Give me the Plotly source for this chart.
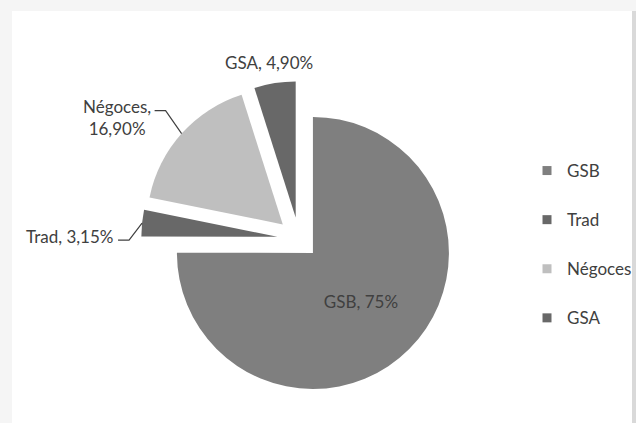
import math
import plotly.graph_objects as go

# Répartition des ventes par circuit
labels = ["GSB", "Trad", "Négoces", "GSA"]
values = [75.0, 3.15, 16.90, 4.90]
shown = ["75%", "3,15%", "16,90%", "4,90%"]
colors = ["#7f7f7f", "#686868", "#bfbfbf", "#686868"]
pulls = [0.145, 0.16, 0.16, 0.16]

W, H = 636, 423
FONT = "Lato"
FS = 17
TXT = "#404040"

# pie geometry (pixels): centre and radius
cx, cy, R = 299.0, 239.0, 136.0
half = R * (1 + max(pulls))
dom_x = [(cx - half) / W, (cx + half) / W]
dom_y = [(H - cy - half) / H, (H - cy + half) / H]


def px(x, y):
    return x / W, 1 - y / H


def outer_point(i):
    """Point on the outer arc at the mid-angle of slice i (clockwise from 12 o'clock)."""
    total = sum(values)
    start = sum(values[:i]) / total * 2 * math.pi
    mid = start + values[i] / total * math.pi
    dx, dy = math.sin(mid), -math.cos(mid)
    ox = cx + pulls[i] * R * dx
    oy = cy + pulls[i] * R * dy
    return ox + R * dx, oy + R * dy


fig = go.Figure()

fig.add_trace(go.Pie(
    labels=labels,
    values=values,
    text=[f"{l}, {s}" for l, s in zip(labels, shown)],
    textinfo="text",
    textposition=["inside", "none", "none", "none"],
    insidetextorientation="horizontal",
    insidetextfont=dict(family=FONT, size=FS, color=TXT),
    marker=dict(colors=colors, line=dict(width=0)),
    pull=pulls,
    sort=False,
    direction="clockwise",
    rotation=0,
    domain=dict(x=dom_x, y=dom_y),
    showlegend=False,
    hoverinfo="label+percent",
))

# legend entries, one group each so they can be spaced apart
for i, (lab, col) in enumerate(zip(labels, colors)):
    fig.add_trace(go.Scatter(
        x=[None], y=[None], mode="markers", name=lab,
        marker=dict(symbol="square", size=9, color=col),
        legendgroup=f"g{i}", showlegend=True, hoverinfo="skip",
    ))

shapes = [
    dict(type="rect", xref="paper", yref="paper", x0=12 / W, x1=632 / W, y0=0, y1=1 - 11 / H,
         fillcolor="white", line=dict(width=0), layer="below"),
    dict(type="rect", xref="paper", yref="paper", x0=632 / W, x1=1, y0=0, y1=1 - 11 / H,
         fillcolor="#d9d9d9", line=dict(width=0), layer="below"),
]

annotations = []
LEAD = dict(color="#404040", width=1.2)

# Trad: label left of the slice with an elbow leader
tx, ty = outer_point(1)
p = [px(tx, ty), px(tx - 13, ty + 17), px(tx - 24, ty + 17)]
shapes.append(dict(type="path", xref="paper", yref="paper",
                   path=f"M {p[0][0]},{p[0][1]} L {p[1][0]},{p[1][1]} L {p[2][0]},{p[2][1]}",
                   line=LEAD))
ax_, ay_ = px(tx - 27, ty + 13)
annotations.append(dict(x=ax_, y=ay_, xref="paper", yref="paper", showarrow=False,
                        text=f"{labels[1]}, {shown[1]}", xanchor="right", yanchor="middle",
                        font=dict(family=FONT, size=FS, color=TXT)))

# Négoces: two-line label upper left
nx, ny = outer_point(2)
p = [px(nx, ny), px(nx - 16, ny - 23), px(nx - 27, ny - 23)]
shapes.append(dict(type="path", xref="paper", yref="paper",
                   path=f"M {p[0][0]},{p[0][1]} L {p[1][0]},{p[1][1]} L {p[2][0]},{p[2][1]}",
                   line=LEAD))
ax_, ay_ = px(nx - 29, ny - 16)
annotations.append(dict(x=ax_, y=ay_, xref="paper", yref="paper", showarrow=False,
                        text=f"{labels[2]},<br>{shown[2]}", xanchor="right", yanchor="middle",
                        align="center", font=dict(family=FONT, size=FS, color=TXT)))

# GSA: label above the slice
gx, gy = outer_point(3)
ax_, ay_ = px(gx - 6, gy - 21)
annotations.append(dict(x=ax_, y=ay_, xref="paper", yref="paper", showarrow=False,
                        text=f"{labels[3]}, {shown[3]}", xanchor="center", yanchor="middle",
                        font=dict(family=FONT, size=FS, color=TXT)))

fig.update_layout(
    width=W, height=H,
    margin=dict(l=0, r=0, t=0, b=0, autoexpand=False),
    paper_bgcolor="#f5f5f5",
    plot_bgcolor="rgba(0,0,0,0)",
    xaxis=dict(visible=False),
    yaxis=dict(visible=False),
    shapes=shapes,
    annotations=annotations,
    legend=dict(x=527 / W, y=1 - 153 / H, xanchor="left", yanchor="top",
                bgcolor="rgba(0,0,0,0)", font=dict(family=FONT, size=FS, color=TXT),
                tracegroupgap=24, itemwidth=30),
    font=dict(family=FONT, color=TXT),
)

fig.write_html("out.html")
